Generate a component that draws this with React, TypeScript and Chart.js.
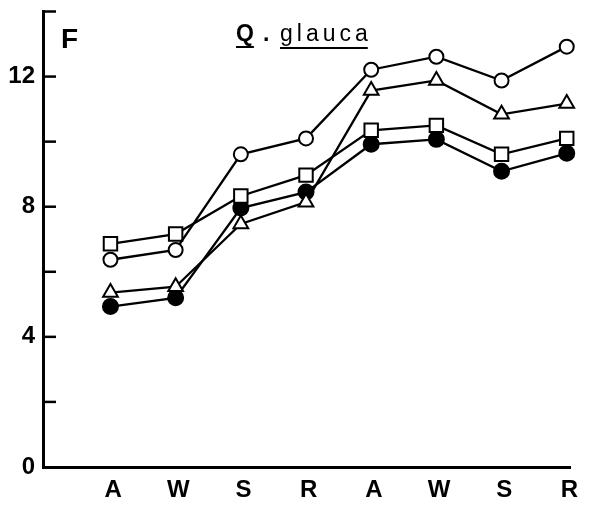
import React, { useEffect, useRef } from "react";
import { Chart, registerables } from "chart.js";

Chart.register(...registerables);

const categories = ["A", "W", "S", "R", "A", "W", "S", "R"];
const openCircle = [6.37, 6.67, 9.61, 10.1, 12.21, 12.61, 11.88, 12.92];
const openTriangle = [5.36, 5.54, 7.47, 8.14, 11.57, 11.88, 10.84, 11.17];
const openSquare = [6.86, 7.16, 8.33, 8.97, 10.35, 10.5, 9.61, 10.1];
const filledCircle = [4.93, 5.2, 7.96, 8.45, 9.92, 10.07, 9.09, 9.64];
const yLabelValues = [0, 4, 8, 12];
const titleSpecies = "Q";
const titleRest = "glauca";
const axisLetter = "F";

const FONT = "'Liberation Sans', Arial, sans-serif";

function toPoints(vals: number[]) {
  return vals.map((v, i) => ({ x: i, y: v }));
}

const decorPlugin = {
  id: "decor",
  afterDraw(chart: any) {
    const ctx = chart.ctx;
    const ys = chart.scales.y;
    const area = chart.chartArea;
    ctx.save();
    ctx.strokeStyle = "#000";
    ctx.lineWidth = 2.5;
    ys.ticks.forEach((t: any) => {
      const py = ys.getPixelForValue(t.value);
      if (t.value === 0) return;
      ctx.beginPath();
      ctx.moveTo(area.left, py);
      ctx.lineTo(area.left + 13, py);
      ctx.stroke();
    });
    ctx.fillStyle = "#000";
    ctx.textBaseline = "alphabetic";
    ctx.font = `bold 28px ${FONT}`;
    ctx.fillText(axisLetter, 61, 48);
    // title
    const x0 = 236;
    const base = 41;
    ctx.font = `bold 23px ${FONT}`;
    const wQ = ctx.measureText(titleSpecies).width;
    ctx.fillText(titleSpecies, x0, base);
    ctx.fillText(".", x0 + wQ + 9, base);
    const x1 = 280;
    ctx.font = `23px ${FONT}`;
    (ctx as any).letterSpacing = "4px";
    const wR = ctx.measureText(titleRest).width - 4;
    ctx.fillText(titleRest, x1, base);
    (ctx as any).letterSpacing = "0px";
    ctx.lineWidth = 2.2;
    ctx.beginPath();
    ctx.moveTo(x0, base + 6);
    ctx.lineTo(x0 + wQ, base + 6);
    ctx.moveTo(x1, base + 7);
    ctx.lineTo(x1 + wR, base + 7);
    ctx.stroke();
    ctx.restore();
  },
};

export default function App() {
  const ref = useRef<HTMLCanvasElement | null>(null);
  useEffect(() => {
    if (!ref.current) return;
    const common = {
      borderColor: "#000",
      borderWidth: 2.3,
      pointBorderColor: "#000",
      pointBorderWidth: 2,
      pointBackgroundColor: "#fff",
      fill: false,
      tension: 0,
      clip: false as any,
    };
    const chart = new Chart(ref.current, {
      type: "line",
      data: {
        datasets: [
          { ...common, label: "circle", data: toPoints(openCircle), pointStyle: "circle", pointRadius: 7 },
          { ...common, label: "triangle", data: toPoints(openTriangle), pointStyle: "triangle", pointRadius: 8.5 },
          { ...common, label: "square", data: toPoints(openSquare), pointStyle: "rect", pointRadius: 9.5 },
          { ...common, label: "filled", data: toPoints(filledCircle), pointStyle: "circle", pointRadius: 7.5, pointBackgroundColor: "#000" },
        ],
      },
      options: {
        animation: false,
        responsive: false,
        maintainAspectRatio: false,
        layout: { padding: { top: 8, right: 25, left: 0, bottom: 0 } },
        plugins: { legend: { display: false }, tooltip: { enabled: false }, title: { display: false } },
        scales: {
          x: {
            type: "linear",
            min: -1.035,
            max: 7.05,
            grid: { display: false, drawTicks: false },
            border: { display: true, color: "#000", width: 3 },
            ticks: {
              color: "#000",
              font: { family: FONT, size: 24, weight: "bold" },
              padding: 9,
              callback: (_v: any, i: number) => categories[i] ?? "",
            },
            afterBuildTicks: (scale: any) => {
              scale.ticks = categories.map((_, i) => ({ value: i + 0.04 }));
            },
            afterFit: (scale: any) => {
              scale.height = 39;
              scale.paddingLeft = 0;
              scale.paddingRight = 0;
            },
          },
          y: {
            type: "linear",
            min: 0,
            max: 14,
            grid: { display: false, drawTicks: false },
            border: { display: true, color: "#000", width: 3 },
            ticks: {
              stepSize: 2,
              color: "#000",
              font: { family: FONT, size: 24, weight: "bold" },
              padding: 8,
              callback: (v: any) => (yLabelValues.includes(v as number) ? String(v) : ""),
            },
            afterFit: (scale: any) => {
              scale.width = 43;
              scale.paddingTop = 0;
              scale.paddingBottom = 0;
            },
          },
        },
      },
      plugins: [decorPlugin],
    });
    return () => chart.destroy();
  }, []);
  return (
    <div style={{ position: "fixed", left: 0, top: 0, width: 595, height: 506, background: "#fff" }}>
      <canvas ref={ref} width={595} height={506} style={{ width: 595, height: 506 }} />
    </div>
  );
}
